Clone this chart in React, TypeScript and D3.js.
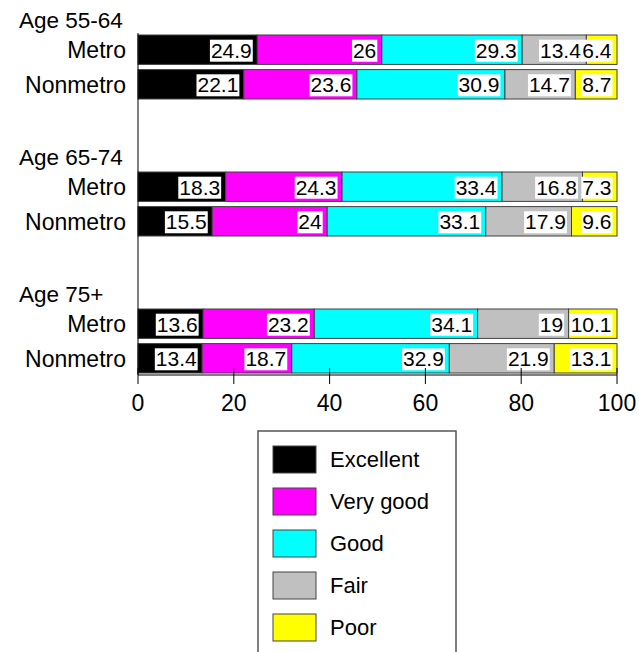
import * as d3 from "d3";
import React from "react";

const groups = ["Age 55-64", "Age 65-74", "Age 75+"];
const rows = ["Metro", "Nonmetro"];
const categories = ["Excellent", "Very good", "Good", "Fair", "Poor"];
const colors = ["#000000", "#ff00ff", "#00ffff", "#c0c0c0", "#ffff00"];

// values per group -> [metro, nonmetro] -> categories
const age5564 = [
  [24.9, 26, 29.3, 13.4, 6.4],
  [22.1, 23.6, 30.9, 14.7, 8.7],
];
const age6574 = [
  [18.3, 24.3, 33.4, 16.8, 7.3],
  [15.5, 24, 33.1, 17.9, 9.6],
];
const age75 = [
  [13.6, 23.2, 34.1, 19, 10.1],
  [13.4, 18.7, 32.9, 21.9, 13.1],
];
const groupValues = [age5564, age6574, age75];
const xTicks = [0, 20, 40, 60, 80, 100];

const FONT = "Liberation Sans, Arial, sans-serif";

function textWidth(s: string, size: number) {
  let w = 0;
  for (const c of s) w += c === "." ? 0.278 : 0.556;
  return w * size;
}

export default function App() {
  const width = 639;
  const height = 652;
  const x = d3.scaleLinear().domain([0, 100]).range([138, 617]);
  const gy = d3.scaleBand().domain(groups).range([35, 35 + 3 * 137]);
  const ry = d3.scaleBand().domain(rows).range([0, 64]).paddingInner(0.15);
  const axisY = 375;
  const valSize = 21;

  return (
    <svg
      width={width}
      height={height}
      style={{ position: "absolute", left: 0, top: 0, fontFamily: FONT }}
    >
      <rect width={width} height={height} fill="#fff" />
      {groups.map((g, gi) => {
        const g0 = gy(g) || 0;
        return (
          <g key={g}>
            <text x={19} y={g0 - 7} fontSize={22.5} fill="#000">
              {g}
            </text>
            {rows.map((r, ri) => {
              const y0 = g0 + (ry(r) || 0);
              const bh = ry.bandwidth();
              const vals = groupValues[gi][ri];
              let acc = 0;
              const segs = vals.map((v, ci) => {
                const s = { start: acc, end: acc + v, v, ci };
                acc += v;
                return s;
              });
              return (
                <g key={r}>
                  <text
                    x={126}
                    y={y0 + bh / 2 + 8.5}
                    fontSize={23}
                    textAnchor="end"
                    fill="#000"
                  >
                    {r}
                  </text>
                  {segs.map((s) => (
                    <rect
                      key={s.ci}
                      x={x(s.start)}
                      y={y0}
                      width={x(Math.min(s.end, 100)) - x(s.start)}
                      height={bh}
                      fill={colors[s.ci]}
                      stroke="#404040"
                      strokeWidth={1}
                    />
                  ))}
                  {segs.map((s) => {
                    const label = String(s.v);
                    const tw = textWidth(label, valSize) + 2;
                    const right = x(Math.min(s.end, 100)) - 4.5;
                    return (
                      <g key={"l" + s.ci}>
                        <rect
                          x={right - tw}
                          y={y0 + bh / 2 - 10}
                          width={tw}
                          height={22}
                          fill="#fff"
                        />
                        <text
                          x={right - 1}
                          y={y0 + bh / 2 + 8}
                          fontSize={valSize}
                          textAnchor="end"
                          fill="#000"
                        >
                          {label}
                        </text>
                      </g>
                    );
                  })}
                </g>
              );
            })}
          </g>
        );
      })}
      {/* axes */}
      <line x1={138} x2={138} y1={33} y2={axisY} stroke="#000" strokeWidth={1} />
      <line x1={138} x2={617} y1={axisY} y2={axisY} stroke="#000" strokeWidth={1} />
      {xTicks.map((t) => (
        <g key={t}>
          <line
            x1={x(t)}
            x2={x(t)}
            y1={368}
            y2={384}
            stroke="#000"
            strokeWidth={1}
          />
          <text
            x={x(t)}
            y={411}
            fontSize={23}
            textAnchor="middle"
            fill="#000"
          >
            {t}
          </text>
        </g>
      ))}
      {/* legend */}
      <rect
        x={258}
        y={431}
        width={198}
        height={260}
        fill="#fff"
        stroke="#555"
        strokeWidth={1.5}
      />
      {categories.map((c, i) => (
        <g key={c} transform={`translate(273, ${446 + i * 42})`}>
          <rect width={43} height={27} fill={colors[i]} stroke="#444" strokeWidth={1} />
          <text x={57} y={21} fontSize={22} fill="#000">
            {c}
          </text>
        </g>
      ))}
    </svg>
  );
}
